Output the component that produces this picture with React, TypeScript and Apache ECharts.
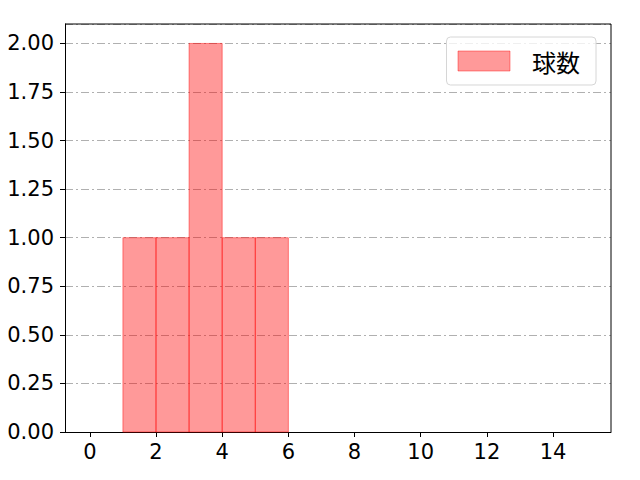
import { useEffect, useRef } from "react";
import * as echarts from "echarts";

const binStarts = [1, 2, 3, 4, 5];
const binEnds = [2, 3, 4, 5, 6];
const counts = [1, 1, 2, 1, 1];
const xTicks = [0, 2, 4, 6, 8, 10, 12, 14];
const seriesName = "球数";

const TICK_FONT = "'DejaVu Sans', sans-serif";
const CJK_FONT = "'Noto Sans CJK JP', 'Noto Sans', sans-serif";

export default function App() {
  const ref = useRef<HTMLDivElement | null>(null);

  useEffect(() => {
    if (!ref.current) return;
    const chart = echarts.init(ref.current, undefined, { renderer: "svg" });
    const data = binStarts.map((start, i) => [start, binEnds[i], counts[i]]);
    chart.setOption({
      animation: false,
      backgroundColor: "#ffffff",
      grid: { left: 65, right: 29, top: 24, bottom: 48, show: false },
      legend: {
        right: 44,
        top: 37,
        data: [{ name: seriesName, icon: "rect" }],
        itemWidth: 52,
        itemHeight: 20,
        padding: [12, 16, 12, 11],
        borderColor: "#d6d6d6",
        borderWidth: 1,
        borderRadius: 4,
        backgroundColor: "rgba(255,255,255,0.8)",
        textStyle: { fontSize: 24, color: "#000", fontFamily: CJK_FONT, padding: [0, 0, 0, 17] },
        itemStyle: { color: "rgba(255,0,0,0.4)", borderColor: "rgba(255,0,0,0.4)", borderWidth: 1 },
      },
      xAxis: {
        type: "value",
        min: -0.75,
        max: 15.75,
        axisLine: { onZero: false, lineStyle: { color: "#000", width: 1 } },
        axisTick: { show: true, length: 5, customValues: xTicks, lineStyle: { color: "#000" } },
        axisLabel: { customValues: xTicks, color: "#000", fontSize: 21, margin: 9, fontFamily: TICK_FONT },
        splitLine: { show: false },
      },
      yAxis: {
        type: "value",
        min: 0,
        max: 2.1,
        interval: 0.25,
        axisLine: { show: true, onZero: false, lineStyle: { color: "#000", width: 1 } },
        axisTick: { show: true, length: 5, lineStyle: { color: "#000" } },
        axisLabel: {
          color: "#000",
          fontSize: 21,
          margin: 11,
          fontFamily: TICK_FONT,
          showMaxLabel: false,
          formatter: (v: number) => v.toFixed(2),
        },
        splitLine: { show: true, lineStyle: { color: "#b0b0b0", width: 1, type: [8, 3, 2, 3] } },
      },
      graphic: [
        {
          type: "line",
          shape: { x1: 65, y1: 24, x2: 611, y2: 24 },
          style: { stroke: "#000", lineWidth: 1 },
          z: 100,
        },
        {
          type: "line",
          shape: { x1: 611, y1: 24, x2: 611, y2: 432 },
          style: { stroke: "#000", lineWidth: 1 },
          z: 100,
        },
      ],
      series: [
        {
          name: seriesName,
          type: "custom",
          data,
          encode: { x: [0, 1], y: 2 },
          itemStyle: { color: "rgba(255,0,0,0.4)" },
          renderItem: (params: any, api: any) => {
            const p0 = api.coord([api.value(0), 0]);
            const p1 = api.coord([api.value(1), api.value(2)]);
            return {
              type: "rect",
              shape: { x: p0[0], y: p1[1], width: p1[0] - p0[0], height: p0[1] - p1[1] },
              style: { fill: "rgba(255,0,0,0.4)", stroke: "rgba(255,0,0,0.45)", lineWidth: 1 },
            };
          },
        },
      ],
    });
    return () => chart.dispose();
  }, []);

  return <div ref={ref} style={{ width: 640, height: 480, margin: -8 }} />;
}
